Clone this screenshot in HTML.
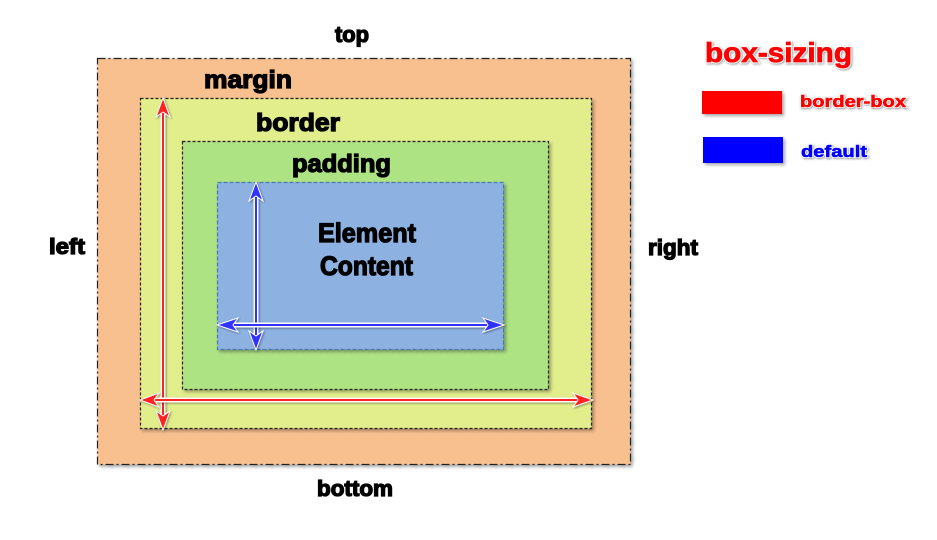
<!DOCTYPE html>
<html><head><meta charset="utf-8"><style>
html,body{margin:0;padding:0;background:#fff;width:937px;height:540px;overflow:hidden}
svg text{font-family:"Liberation Sans",sans-serif;font-weight:bold}
.lb{stroke:#000;stroke-width:1.3}
</style></head><body>
<svg width="937" height="540" viewBox="0 0 937 540" xmlns="http://www.w3.org/2000/svg">
<defs>
<filter id="sh" x="-20%" y="-20%" width="140%" height="140%"><feDropShadow dx="2" dy="2" stdDeviation="1.5" flood-color="#000" flood-opacity="0.35"/></filter>
<filter id="glow" x="-20%" y="-20%" width="140%" height="140%"><feDropShadow dx="1" dy="1" stdDeviation="1" flood-color="#000" flood-opacity="0.4"/></filter>
</defs>
<rect x="97.5" y="58.5" width="533" height="406" fill="#F8C08E" stroke="#222" stroke-width="1.2" stroke-dasharray="8,3,2,3" filter="url(#sh)"/>
<rect x="140.5" y="98.5" width="451" height="330" fill="#E2EE8C" stroke="#222" stroke-width="1.2" stroke-dasharray="3,2" filter="url(#sh)"/>
<rect x="182.5" y="141.5" width="366" height="248" fill="#AEE384" stroke="#222" stroke-width="1.2" stroke-dasharray="3,2" filter="url(#sh)"/>
<rect x="217.5" y="182.5" width="286" height="167" fill="#8DB2E2" stroke="#4a78b8" stroke-width="1.2" stroke-dasharray="4,2" filter="url(#sh)"/>

<g><text class="lb" x="335" y="42" font-size="22" textLength="34" lengthAdjust="spacingAndGlyphs">top</text></g>
<g><text class="lb" x="204" y="88" font-size="25" textLength="88" lengthAdjust="spacingAndGlyphs">margin</text></g>
<g><text class="lb" x="256" y="131" font-size="25" textLength="84" lengthAdjust="spacingAndGlyphs">border</text></g>
<g><text class="lb" x="292" y="172" font-size="25" textLength="99" lengthAdjust="spacingAndGlyphs">padding</text></g>
<g>
<text class="lb" x="318" y="242" font-size="27" textLength="98" lengthAdjust="spacingAndGlyphs">Element</text>
<text class="lb" x="320" y="275" font-size="27" textLength="93" lengthAdjust="spacingAndGlyphs">Content</text></g>
<g><text class="lb" x="49" y="254" font-size="22" textLength="36" lengthAdjust="spacingAndGlyphs">left</text></g>
<g><text class="lb" x="648" y="255" font-size="22" textLength="50" lengthAdjust="spacingAndGlyphs">right</text></g>
<g><text class="lb" x="317" y="496" font-size="22" textLength="76" lengthAdjust="spacingAndGlyphs">bottom</text></g>

<g filter="url(#glow)">
<line x1="163" y1="110" x2="163" y2="418" stroke="#fff" stroke-width="5"/>
<line x1="163" y1="110" x2="163" y2="418" stroke="#f22" stroke-width="2"/>
<polygon points="163,98 156,117 163,112 170,117" fill="#f22" stroke="#fff" stroke-width="1"/>
<polygon points="163,430 156,411 163,416 170,411" fill="#f22" stroke="#fff" stroke-width="1"/>
</g>
<g filter="url(#glow)">
<line x1="152" y1="400" x2="582" y2="400" stroke="#fff" stroke-width="5"/>
<line x1="152" y1="400" x2="582" y2="400" stroke="#f22" stroke-width="2"/>
<polygon points="140,400 159,393 154,400 159,407" fill="#f22" stroke="#fff" stroke-width="1"/>
<polygon points="593,400 573,393 578,400 573,407" fill="#f22" stroke="#fff" stroke-width="1"/>
</g>
<g filter="url(#glow)">
<line x1="256" y1="194" x2="256" y2="338" stroke="#fff" stroke-width="5"/>
<line x1="256" y1="194" x2="256" y2="338" stroke="#33f" stroke-width="2"/>
<polygon points="256,182 249,201 256,196 263,201" fill="#33f" stroke="#fff" stroke-width="1"/>
<polygon points="256,350 249,331 256,336 263,331" fill="#33f" stroke="#fff" stroke-width="1"/>
</g>
<g filter="url(#glow)">
<line x1="229" y1="325" x2="492" y2="325" stroke="#fff" stroke-width="5"/>
<line x1="229" y1="325" x2="492" y2="325" stroke="#33f" stroke-width="2"/>
<polygon points="217,325 238,318 233,325 238,332" fill="#33f" stroke="#fff" stroke-width="1"/>
<polygon points="504,325 483,318 488,325 483,332" fill="#33f" stroke="#fff" stroke-width="1"/>
</g>

<g>
<text x="705" y="62" font-size="28" fill="#f00" stroke="#fff" stroke-width="2.5" style="paint-order:stroke" filter="url(#glow)" textLength="147" lengthAdjust="spacingAndGlyphs">box-sizing</text>
<text x="705" y="62" font-size="28" fill="#f00" stroke="#f00" stroke-width="0.8" textLength="147" lengthAdjust="spacingAndGlyphs">box-sizing</text>
<rect x="702" y="91" width="80" height="23" fill="#f00" filter="url(#sh)"/>
<text x="800" y="107" font-size="17" fill="#f00" stroke="#fff" stroke-width="2" style="paint-order:stroke" filter="url(#glow)" textLength="106" lengthAdjust="spacingAndGlyphs">border-box</text>
<text x="800" y="107" font-size="17" fill="#f00" stroke="#f00" stroke-width="0.6" textLength="106" lengthAdjust="spacingAndGlyphs">border-box</text>
<rect x="703" y="137" width="80" height="26" fill="#00f" filter="url(#sh)"/>
<text x="801" y="157" font-size="17" fill="#00f" stroke="#fff" stroke-width="2" style="paint-order:stroke" filter="url(#glow)" textLength="66" lengthAdjust="spacingAndGlyphs">default</text>
<text x="801" y="157" font-size="17" fill="#00f" stroke="#00f" stroke-width="0.6" textLength="66" lengthAdjust="spacingAndGlyphs">default</text>
</g>
</svg>
</body></html>
